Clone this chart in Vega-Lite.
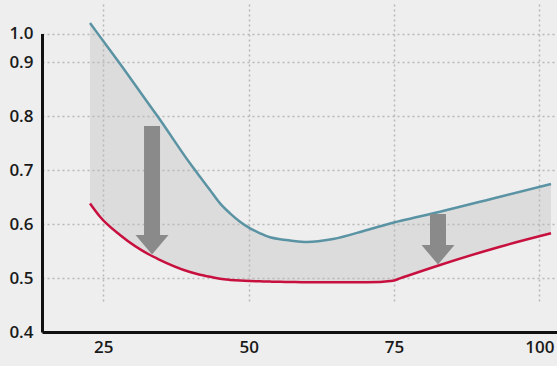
{
  "$schema": "https://vega.github.io/schema/vega-lite/v6.json",
  "width": 515,
  "height": 328,
  "autosize": {"type": "none"},
  "padding": {"left": 42, "top": 4, "right": 0, "bottom": 34},
  "background": "#eeeeee",
  "config": {
    "view": {"stroke": null},
    "axis": {
      "labelFont": "Open Sans",
      "labelFontSize": 17,
      "labelFontWeight": 600,
      "labelColor": "#1a1a1a",
      "domainColor": "#111111",
      "domainWidth": 3,
      "ticks": false,
      "gridColor": "#b8b8b8",
      "gridDash": [2, 3],
      "gridWidth": 1.5,
      "title": null
    }
  },
  "datasets": {
    "curves": [
      {"x": 22.71, "blue": 1.037, "red": 0.638},
      {"x": 24.43, "blue": 0.989, "red": 0.6135},
      {"x": 27.87, "blue": 0.8967, "red": 0.5796},
      {"x": 33.03, "blue": 0.8189, "red": 0.5426},
      {"x": 34.24, "blue": 0.8009, "red": 0.5361},
      {"x": 39.91, "blue": 0.7124, "red": 0.5111},
      {"x": 41.63, "blue": 0.6876, "red": 0.5059},
      {"x": 43.35, "blue": 0.663, "red": 0.5022},
      {"x": 45.08, "blue": 0.6383, "red": 0.4985},
      {"x": 46.8, "blue": 0.6198, "red": 0.4965},
      {"x": 48.52, "blue": 0.6043, "red": 0.4952},
      {"x": 50.24, "blue": 0.592, "red": 0.4944},
      {"x": 51.96, "blue": 0.5828, "red": 0.4939},
      {"x": 53.68, "blue": 0.5754, "red": 0.4933},
      {"x": 55.4, "blue": 0.5717, "red": 0.493},
      {"x": 57.12, "blue": 0.5694, "red": 0.4926},
      {"x": 60.04, "blue": 0.5666, "red": 0.492},
      {"x": 64.52, "blue": 0.5722, "red": 0.4919},
      {"x": 70.37, "blue": 0.5889, "red": 0.492},
      {"x": 74.84, "blue": 0.6024, "red": 0.495},
      {"x": 76.05, "blue": 0.6056, "red": 0.4994},
      {"x": 82.93, "blue": 0.6228, "red": 0.5241},
      {"x": 93.25, "blue": 0.6506, "red": 0.558},
      {"x": 102.02, "blue": 0.6741, "red": 0.5828}
    ],
    "arrows": [
      {"x": 33.38, "top": 0.7815, "base": 0.5796},
      {"x": 82.58, "top": 0.6185, "base": 0.5611}
    ]
  },
  "encoding": {
    "x": {
      "field": "x",
      "type": "quantitative",
      "scale": {"domain": [14.45, 103.05], "nice": false, "zero": false},
      "axis": {"values": [25, 50, 75, 100], "grid": true, "labelPadding": 7, "labelFlush": false}
    }
  },
  "layer": [
    {
      "data": {"name": "curves"},
      "mark": {"type": "area", "color": "#bbbbbb", "opacity": 0.35, "interpolate": "monotone"},
      "encoding": {
        "y": {
          "field": "red",
          "type": "quantitative",
          "scale": {"domain": [0.4, 0.9, 1.0], "range": [328, 58, 29.5], "nice": false, "zero": false},
          "axis": {"values": [0.4, 0.5, 0.6, 0.7, 0.8, 0.9, 1.0], "format": ".1f", "grid": true, "labelPadding": 9}
        },
        "y2": {"field": "blue"}
      }
    },
    {
      "data": {"name": "curves"},
      "mark": {"type": "line", "color": "#5a93a3", "strokeWidth": 2.5, "interpolate": "monotone"},
      "encoding": {"y": {"field": "blue", "type": "quantitative"}}
    },
    {
      "data": {"name": "curves"},
      "mark": {"type": "line", "color": "#c8103f", "strokeWidth": 2.5, "interpolate": "monotone"},
      "encoding": {"y": {"field": "red", "type": "quantitative"}}
    },
    {
      "data": {"name": "arrows"},
      "mark": {"type": "rule", "color": "#8a8a8a", "strokeWidth": 16},
      "encoding": {
        "y": {"field": "top", "type": "quantitative"},
        "y2": {"field": "base"}
      }
    },
    {
      "data": {"name": "arrows"},
      "mark": {"type": "point", "shape": "M-1,0L1,0L0,1.18Z", "size": 1089, "filled": true, "color": "#8a8a8a", "opacity": 1, "strokeWidth": 0},
      "encoding": {
        "y": {"field": "base", "type": "quantitative"}
      }
    }
  ]
}
